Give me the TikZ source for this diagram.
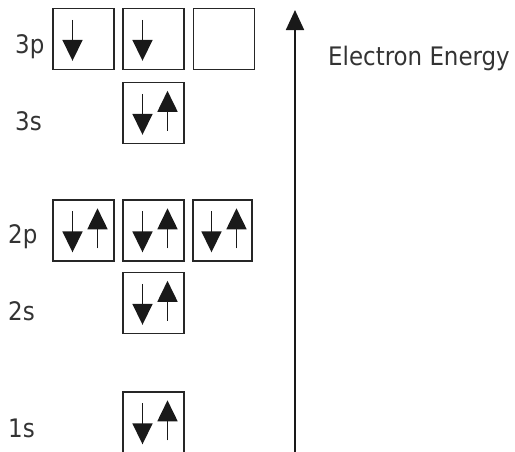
\documentclass[tikz,border=0pt]{standalone}
\usepackage{fontspec}
\setmainfont{DejaVu Sans Condensed}
\usetikzlibrary{arrows.meta}
\newcommand\dnspin[1]{\draw[spin] ([xshift=-11pt,yshift=-12pt]#1.north) -- ([xshift=-11pt,yshift=-53pt]#1.north);}
\newcommand\upspin[1]{\draw[spin] ([xshift=14pt,yshift=-49pt]#1.north) -- ([xshift=14pt,yshift=-9pt]#1.north);}
\begin{document}
\begin{tikzpicture}[x=1pt,y=-1pt,
  orb/.style={draw=black!85, line width=1.4pt, minimum width=61pt, minimum height=61pt, inner sep=0pt},
  spin/.style={line width=1.8pt, draw=black!90, -{Triangle[width=20pt,length=21pt]}},
  lab/.style={anchor=base west, font=\fontsize{25.5}{30}\selectfont, text=black!80, inner sep=0pt}]
\useasboundingbox (0,0) rectangle (515,451);
% orbital boxes
\node[orb] (p3a) at (83.5,39) {};
\node[orb] (p3b) at (153.5,39) {};
\node[orb] (p3c) at (224,39) {};
\node[orb] (s3) at (153.5,113) {};
\node[orb] (p2a) at (83.5,230.5) {};
\node[orb] (p2b) at (153.5,230.5) {};
\node[orb, minimum width=59pt] (p2c) at (222.5,230.5) {};
\node[orb] (s2) at (153.5,303) {};
\node[orb] (s1) at (153.5,422.5) {};
% spins
\dnspin{p3a}
\dnspin{p3b}
\dnspin{s3}\upspin{s3}
\dnspin{p2a}\upspin{p2a}
\dnspin{p2b}\upspin{p2b}
\dnspin{p2c}\upspin{p2c}
\dnspin{s2}\upspin{s2}
\dnspin{s1}\upspin{s1}
% labels
\node[lab] (l3p) at (15,53) {3p};
\node[lab] (l3s) at (15,130) {3s};
\node[lab] (l2p) at (8,243) {2p};
\node[lab] (l2s) at (8,320) {2s};
\node[lab] (l1s) at (8,437) {1s};
% energy axis
\coordinate (eb) at (295,455);
\coordinate (et) at (295,10);
\draw[line width=1.8pt, draw=black!90, -{Triangle[width=18pt,length=20pt]}] (eb) -- (et);
\node[lab] (energy) at (328,65) {Electron Energy};
\end{tikzpicture}
\end{document}
